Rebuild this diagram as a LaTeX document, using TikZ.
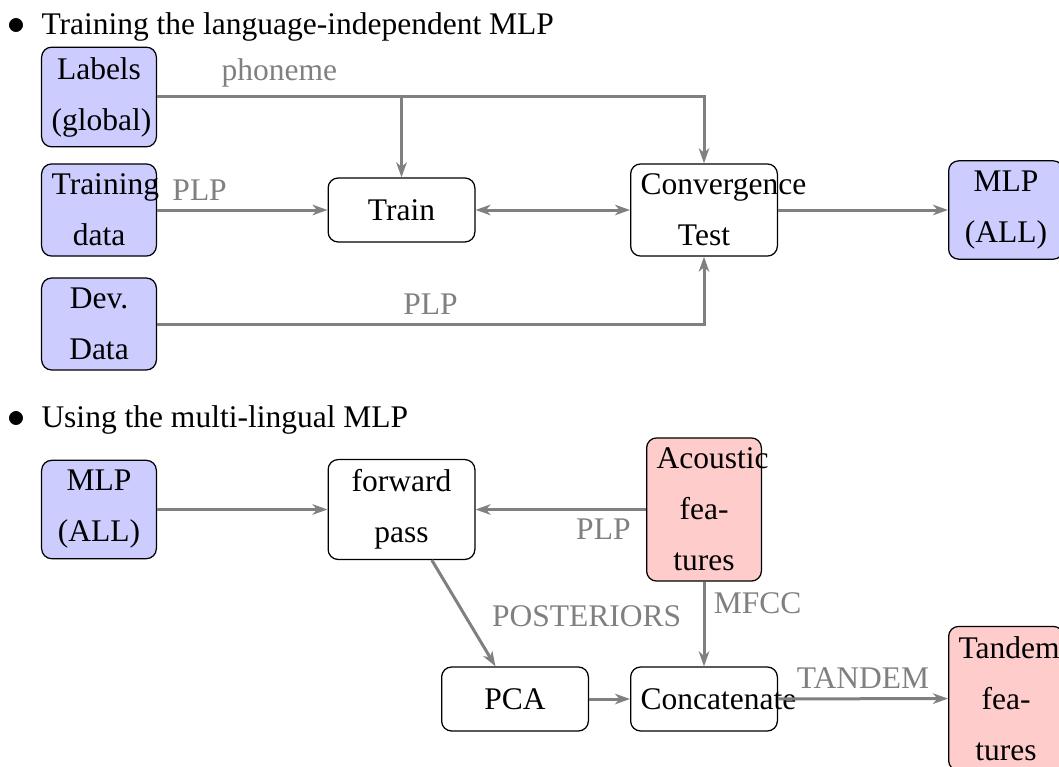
\documentclass[tikz,border=0pt]{standalone}
\usepackage{fontspec}
\setmainfont{Liberation Serif}
\usetikzlibrary{arrows.meta}
\begin{document}
\begin{tikzpicture}[x=0.4pt,y=-0.4pt,
  every node/.style={font=\fontsize{12.6}{20.4}\selectfont},
  box/.style={draw=black, line width=0.5pt, rounded corners=4pt, inner sep=4pt, align=center},
  src/.style={box, fill=blue!20, text width=37.9pt},
  outp/.style={box, fill=red!20, text width=37.9pt},
  proc/.style={box, fill=white, text width=50.7pt, minimum height=25.6pt},
  tip/.tip={Stealth[length=6pt,width=4.2pt,inset=1.8pt]},
  conn/.style={draw=gray, line width=1.2pt, -tip},
  twoway/.style={draw=gray, line width=1.2pt, tip-tip},
  lab/.style={text=gray},
  bulletline/.style={anchor=base west, inner sep=0pt},
  bulletmark/.style={anchor=base, inner sep=0pt, font=\fontsize{15}{18}\selectfont},
  ]
\useasboundingbox (0,0) rectangle (1059,766);

% ---- first part: training the MLP ----
\node[bulletmark] (b1) at (16.5,35) {$\bullet$};
\node[bulletline] (t1) at (41,35) {Training the language-independent MLP};

\node[src] (labels) at (99,97) {Labels\\(global)};
\node[src] (tdata) at (99,210) {Training\\data};
\node[src] (dev) at (99,324) {Dev.\\Data};
\node[proc] (train) at (401.5,210) {Train};
\node[proc] (conv) at (704,210) {Convergence\\Test};
\node[src] (mlpa) at (1006,210) {MLP\\(ALL)};

\draw[conn] (labels) -| node[lab, pos=0.25, above] {phoneme} (train);
\draw[conn] (labels) -| (conv);
\draw[conn] (tdata) -- node[lab, pos=0.25, above] {PLP} (train);
\draw[twoway] (train) -- (conv);
\draw[conn] (dev) -| node[lab, pos=0.25, above] {PLP} (conv);
\draw[conn] (conv) -- (mlpa);

% ---- second part: using the MLP ----
\node[bulletmark] (b2) at (16.5,427) {$\bullet$};
\node[bulletline] (t2) at (41,427) {Using the multi-lingual MLP};

\node[src] (mlpb) at (99,509.5) {MLP\\(ALL)};
\node[proc] (fwd) at (401.5,509.5) {forward\\pass};
\node[outp] (acou) at (704,509.5) {Acoustic\\fea-\\tures};
\node[proc] (pca) at (515,699) {PCA};
\node[proc] (concat) at (704,699) {Concatenate};
\node[outp] (tandem) at (1006,698.5) {Tandem\\fea-\\tures};

\draw[conn] (mlpb) -- (fwd);
\draw[conn] (acou) -- node[lab, pos=0.25, below] {PLP} (fwd);
\draw[conn] (fwd) -- node[lab, right, xshift=7.5pt, yshift=-1.2pt] {POSTERIORS} (pca);
\draw[conn] (acou) -- node[lab, pos=0.25, right] {MFCC} (concat);
\draw[conn] (pca) -- (concat);
\draw[conn] (concat) -- node[lab, above] {TANDEM} (tandem);
\end{tikzpicture}
\end{document}
